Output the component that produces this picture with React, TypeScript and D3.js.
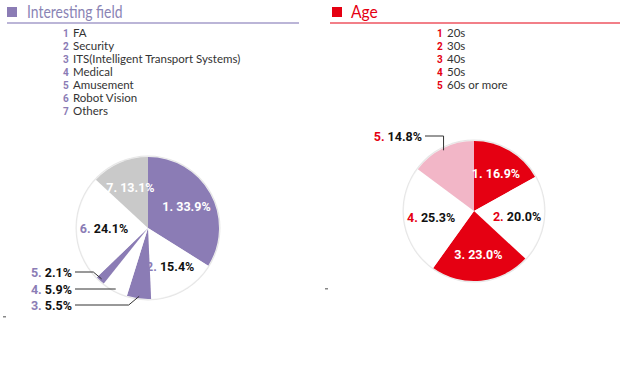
import React from 'react'
import * as d3 from 'd3'

// Interesting field (left pie)
const fieldNames = ['FA', 'Security', 'ITS(Intelligent Transport Systems)', 'Medical', 'Amusement', 'Robot Vision', 'Others']
const fieldValues = [33.9, 15.4, 5.5, 5.9, 2.1, 24.1, 13.1]
const fieldFills = ['#8b7cb5', '#ffffff', '#8b7cb5', '#ffffff', '#8b7cb5', '#ffffff', '#c9c9c9']
const fieldOutside = [false, false, true, true, true, false, false]

// Age (right pie)
const ageNames = ['20s', '30s', '40s', '50s', '60s or more']
const ageValues = [16.9, 20.0, 23.0, 25.3, 14.8]
const ageFills = ['#e50012', '#ffffff', '#e50012', '#ffffff', '#f2b6c7']
const ageOutside = [false, false, false, false, true]

const PURPLE = '#8b7cb5'
const RED = '#e50012'
const LABEL_FONT = 'Roboto, sans-serif'
const TEXT_FONT = 'Lato, sans-serif'

type PieProps = {
  cx: number
  cy: number
  r: number
  values: number[]
  fills: string[]
  outside: boolean[]
  accent: string
  // rows for outside labels: [labelRightX, rowY]
  outsideRows: Record<number, [number, number]>
  vertical?: boolean
}

function Pie({ cx, cy, r, values, fills, outside, accent, outsideRows, vertical }: PieProps) {
  const pie = d3.pie<number>().sort(null).value(d => d)
  const arcs = pie(values)
  const arc = d3.arc<d3.PieArcDatum<number>>().innerRadius(0).outerRadius(r)
  const labelArc = d3.arc<d3.PieArcDatum<number>>().innerRadius(r * 0.62).outerRadius(r * 0.62)
  const edgeArc = d3.arc<d3.PieArcDatum<number>>().innerRadius(r * 0.97).outerRadius(r * 0.97)

  return (
    <g>
      <circle cx={cx} cy={cy} r={r + 1.5} fill="#e6e6e6" />
      <circle cx={cx} cy={cy} r={r + 0.5} fill="#f2f2f2" />
      <g transform={`translate(${cx},${cy})`}>
        {arcs.map((a, i) => (
          <path key={i} d={arc(a) || ''} fill={fills[i]} />
        ))}
        {arcs.map((a, i) => {
          if (outside[i]) return null
          const [lx, ly] = labelArc.centroid(a)
          const dark = fills[i] !== '#ffffff'
          return (
            <text key={'l' + i} x={lx} y={ly} dy="0.36em" textAnchor="middle"
              fontFamily={LABEL_FONT} fontWeight={700} fontSize={12.5}>
              <tspan fill={dark ? '#fff' : accent}>{i + 1}. </tspan>
              <tspan fill={dark ? '#fff' : '#111'}>{values[i].toFixed(1)}%</tspan>
            </text>
          )
        })}
      </g>
      {arcs.map((a, i) => {
        if (!outside[i]) return null
        const [ex, ey] = edgeArc.centroid(a)
        const px = cx + ex
        const py = cy + ey
        const [tx, ty] = outsideRows[i]
        const dy = Math.abs(py - ty)
        const elbowX = vertical ? px : px - dy * 1.2
        const pts = vertical
          ? [[tx + 3, ty], [px, ty], [px, py]]
          : [[tx + 3, ty], [elbowX, ty], [px, py]]
        return (
          <g key={'o' + i}>
            <polyline points={pts.map(p => p.join(',')).join(' ')} fill="none" stroke="#333" strokeWidth={1} />
            <text x={tx} y={ty} dy="0.36em" textAnchor="end" fontFamily={LABEL_FONT} fontWeight={700} fontSize={12.5}>
              <tspan fill={accent}>{i + 1}. </tspan>
              <tspan fill="#111">{values[i].toFixed(1)}%</tspan>
            </text>
          </g>
        )
      })}
    </g>
  )
}

function Legend({ x, y, names, color }: { x: number; y: number; names: string[]; color: string }) {
  const row = d3.scaleLinear().domain([0, 1]).range([y, y + 13])
  return (
    <g>
      {names.map((n, i) => (
        <g key={i} transform={`translate(${x},${row(i)})`}>
          <text x={0} y={0} dy="0.36em" fill={color} fontFamily={LABEL_FONT} fontWeight={700} fontSize={10}>{i + 1}</text>
          <text x={10} y={0} dy="0.36em" fill="#333" fontFamily={TEXT_FONT} fontSize={11.5}>{n}</text>
        </g>
      ))}
    </g>
  )
}

export default function App() {
  return (
    <svg width={620} height={385} style={{ display: 'block', position: 'absolute', left: 0, top: 0, background: '#fff' }}>
      {/* left header */}
      <rect x={7} y={7} width={10} height={10} fill={PURPLE} />
      <text transform="translate(27,18) scale(0.82,1)" fill="#8a84b5" fontFamily={TEXT_FONT} fontSize={17}>Interesting field</text>
      <line x1={7} x2={299} y1={23} y2={23} stroke="#a59cca" strokeWidth={1.5} />
      <Legend x={63} y={33} names={fieldNames} color={PURPLE} />

      {/* right header */}
      <rect x={332} y={7} width={10} height={10} fill={RED} />
      <text transform="translate(351,18) scale(0.92,1)" fill={RED} fontFamily={TEXT_FONT} fontSize={17}>Age</text>
      <line x1={330} x2={620} y1={23} y2={23} stroke={RED} strokeWidth={1.2} />
      <Legend x={437} y={33} names={ageNames} color={RED} />

      <Pie cx={148} cy={228} r={71} values={fieldValues} fills={fieldFills} outside={fieldOutside}
        accent={PURPLE} outsideRows={{ 2: [72, 305], 3: [72, 289], 4: [72, 272] }} />
      <Pie cx={474} cy={211} r={70} values={ageValues} fills={ageFills} outside={ageOutside}
        accent={RED} outsideRows={{ 4: [422, 136] }} vertical />

      <rect x={3} y={316} width={3} height={1.5} fill="#888" />
      <rect x={325} y={288} width={3} height={1.5} fill="#888" />
    </svg>
  )
}
